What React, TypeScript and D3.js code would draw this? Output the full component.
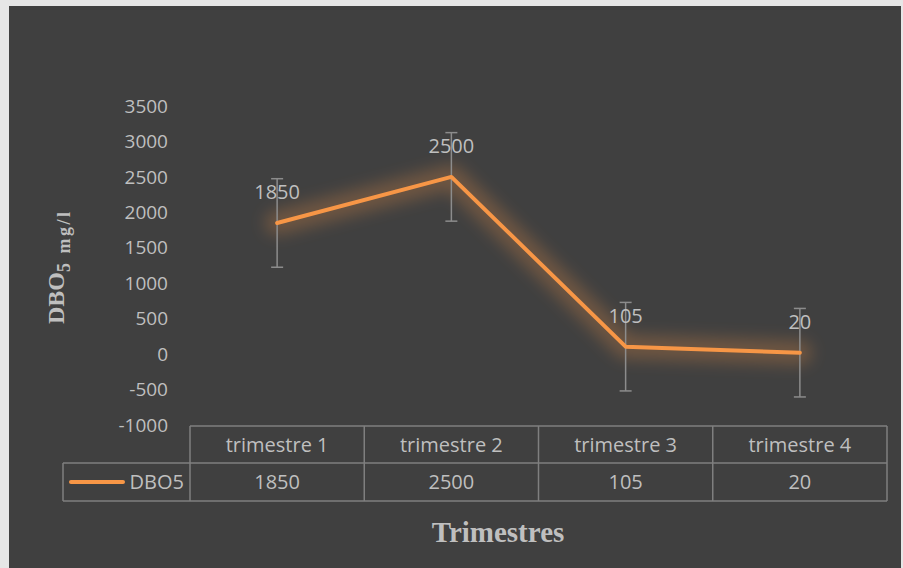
import React, { useEffect, useRef } from "react";
import * as d3 from "d3";

const categories = ["trimestre 1", "trimestre 2", "trimestre 3", "trimestre 4"];
const values = [1850, 2500, 105, 20];
const seriesName = "DBO5";
const yTicks = [-1000, -500, 0, 500, 1000, 1500, 2000, 2500, 3000, 3500];

const App = () => {
  const ref = useRef<SVGSVGElement | null>(null);

  var width = 903,
    height = 568,
    left = 190,
    right = 887,
    top = 106,
    bottom = 425,
    textColor = "#bfbfbf",
    gridColor = "#7f7f7f",
    orange = "#f79646",
    font = "'Open Sans', sans-serif";

  useEffect(() => {
    const svg = d3.select(ref.current);
    svg.selectAll("*").remove();

    var x = d3.scaleBand<string>().domain(categories).range([left, right]);
    var y = d3.scaleLinear().domain([-1000, 3500]).range([bottom, top]);

    // standard error, like Excel's error bars
    var err = (d3.deviation(values) || 0) / Math.sqrt(values.length);

    svg.append("rect").attr("width", width).attr("height", height).attr("fill", "#e6e6e6");
    svg.append("rect").attr("x", 9).attr("y", 6).attr("width", width - 11).attr("height", height - 6).attr("fill", "#404040");

    const defs = svg.append("defs");
    defs
      .append("filter")
      .attr("id", "glow")
      .attr("x", "-20%")
      .attr("y", "-30%")
      .attr("width", "140%")
      .attr("height", "160%")
      .append("feGaussianBlur")
      .attr("stdDeviation", 8);

    // y axis labels
    svg
      .append("g")
      .selectAll("text")
      .data(yTicks)
      .enter()
      .append("text")
      .attr("x", 168)
      .attr("y", d => y(d))
      .attr("dy", "0.35em")
      .attr("text-anchor", "end")
      .attr("font-family", font)
      .attr("font-size", 19)
      .attr("fill", textColor)
      .text(d => d);

    // y title
    const yt = svg
      .append("text")
      .attr("transform", "translate(64,324) rotate(-90)")
      .attr("font-family", "'Liberation Serif', serif")
      .attr("font-weight", "bold")
      .attr("fill", textColor);
    yt.append("tspan").attr("font-size", 24).text("DBO");
    yt.append("tspan")
      .attr("font-size", 18)
      .attr("dy", 6)
      .attr("letter-spacing", 2.5)
      .text("5 mg/l");

    const cx = (d: string) => (x(d) || 0) + x.bandwidth() / 2;
    const pts = values.map((v, i) => ({ c: categories[i], v }));

    var line = d3
      .line<{ c: string; v: number }>()
      .x(d => cx(d.c))
      .y(d => y(d.v));

    // glow
    svg
      .append("path")
      .attr("d", line(pts))
      .attr("fill", "none")
      .attr("stroke", orange)
      .attr("stroke-width", 24)
      .attr("stroke-linejoin", "round")
      .attr("stroke-linecap", "round")
      .attr("opacity", 0.26)
      .attr("filter", "url(#glow)");

    // error bars
    const eb = svg.append("g").attr("stroke", "#8c8c8c").attr("stroke-width", 1.5);
    pts.forEach(d => {
      const px = cx(d.c);
      eb.append("line").attr("x1", px).attr("x2", px).attr("y1", y(d.v + err)).attr("y2", y(d.v - err));
      eb.append("line").attr("x1", px - 6).attr("x2", px + 6).attr("y1", y(d.v + err)).attr("y2", y(d.v + err));
      eb.append("line").attr("x1", px - 6).attr("x2", px + 6).attr("y1", y(d.v - err)).attr("y2", y(d.v - err));
    });

    svg
      .append("path")
      .attr("d", line(pts))
      .attr("fill", "none")
      .attr("stroke", orange)
      .attr("stroke-width", 4)
      .attr("stroke-linejoin", "round")
      .attr("stroke-linecap", "round");

    // data labels
    svg
      .append("g")
      .selectAll("text")
      .data(pts)
      .enter()
      .append("text")
      .attr("x", d => cx(d.c))
      .attr("y", d => y(d.v) - 24)
      .attr("text-anchor", "middle")
      .attr("font-family", font)
      .attr("font-size", 20)
      .attr("fill", textColor)
      .text(d => d.v);

    // data table
    var r0 = 426,
      r1 = 463,
      r2 = 501,
      legLeft = 63;
    const tb = svg.append("g").attr("stroke", gridColor).attr("stroke-width", 1.5).attr("fill", "none");
    tb.append("line").attr("x1", left).attr("x2", right).attr("y1", r0).attr("y2", r0);
    tb.append("line").attr("x1", legLeft).attr("x2", right).attr("y1", r1).attr("y2", r1);
    tb.append("line").attr("x1", legLeft).attr("x2", right).attr("y1", r2).attr("y2", r2);
    tb.append("line").attr("x1", legLeft).attr("x2", legLeft).attr("y1", r1).attr("y2", r2);
    categories.forEach(c => {
      tb.append("line").attr("x1", x(c)).attr("x2", x(c)).attr("y1", r0).attr("y2", r2);
    });
    tb.append("line").attr("x1", right).attr("x2", right).attr("y1", r0).attr("y2", r2);

    svg
      .append("g")
      .selectAll("text")
      .data(categories)
      .enter()
      .append("text")
      .attr("x", d => cx(d))
      .attr("y", (r0 + r1) / 2)
      .attr("dy", "0.35em")
      .attr("text-anchor", "middle")
      .attr("font-family", font)
      .attr("font-size", 20)
      .attr("fill", textColor)
      .text(d => d);

    svg
      .append("g")
      .selectAll("text")
      .data(pts)
      .enter()
      .append("text")
      .attr("x", d => cx(d.c))
      .attr("y", (r1 + r2) / 2)
      .attr("dy", "0.35em")
      .attr("text-anchor", "middle")
      .attr("font-family", font)
      .attr("font-size", 20)
      .attr("fill", textColor)
      .text(d => d.v);

    svg
      .append("line")
      .attr("x1", 71)
      .attr("x2", 123)
      .attr("y1", (r1 + r2) / 2)
      .attr("y2", (r1 + r2) / 2)
      .attr("stroke", orange)
      .attr("stroke-width", 4)
      .attr("stroke-linecap", "round");
    svg
      .append("text")
      .attr("x", 184)
      .attr("y", (r1 + r2) / 2)
      .attr("dy", "0.35em")
      .attr("text-anchor", "end")
      .attr("font-family", font)
      .attr("font-size", 20)
      .attr("fill", textColor)
      .text(seriesName);

    // x title
    svg
      .append("text")
      .attr("x", 498)
      .attr("y", 542)
      .attr("text-anchor", "middle")
      .attr("font-family", "'Liberation Serif', serif")
      .attr("font-weight", "bold")
      .attr("font-size", 29)
      .attr("fill", textColor)
      .text("Trimestres");
  }, []);

  return (
    <svg
      ref={ref}
      width={width}
      height={height}
      style={{ position: "absolute", left: 0, top: 0, display: "block" }}
    />
  );
};

export default App;
